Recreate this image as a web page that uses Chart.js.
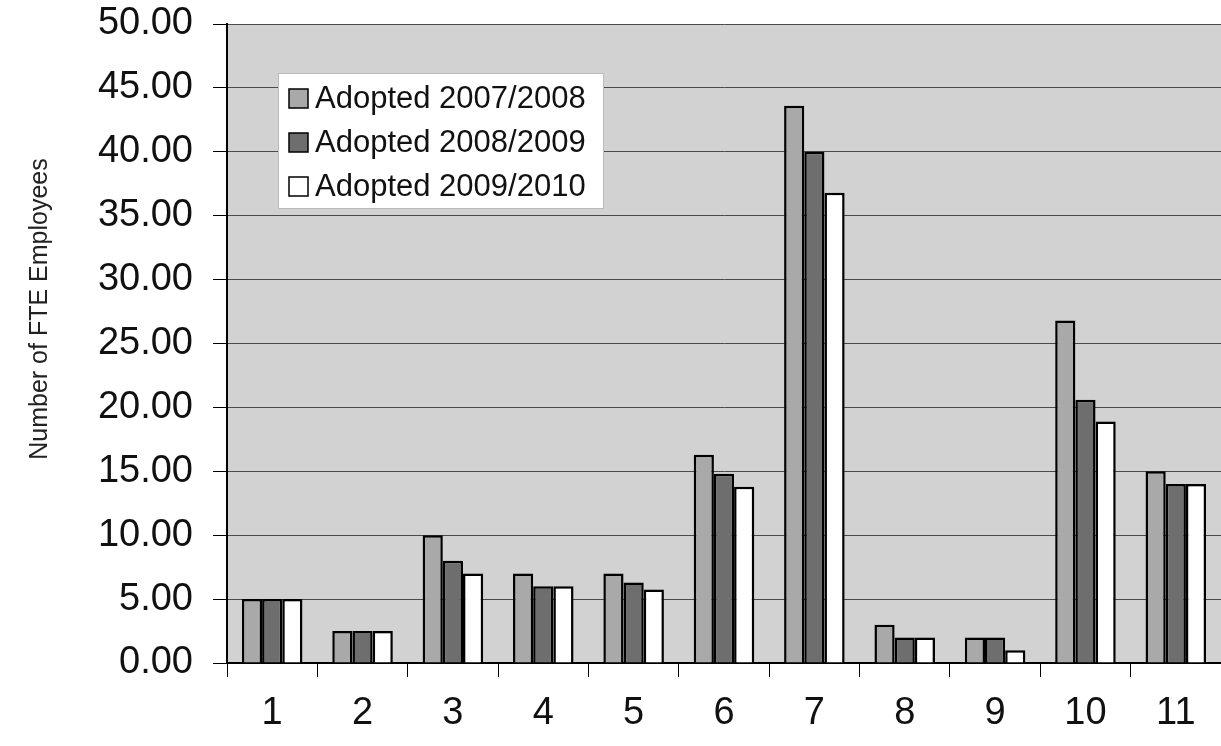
<!DOCTYPE html>
<html lang="en">
<head>
  <meta charset="UTF-8">
  <title>Number of FTE Employees</title>
  <script src="https://cdn.jsdelivr.net/npm/chart.js@4.4.0/dist/chart.umd.min.js"></script>
  <style>
    body { margin: 0; background: #fff; }
    #wrap { width: 1221px; height: 746px; position: relative; }
  </style>
</head>
<body>
  <div id="wrap"><canvas id="fteChart"></canvas></div>
  <script>
    const categories = ["1", "2", "3", "4", "5", "6", "7", "8", "9", "10", "11"];
    const seriesNames = ["Adopted 2007/2008", "Adopted 2008/2009", "Adopted 2009/2010"];
    const adopted0708 = [5, 2.5, 10, 7, 7, 16.3, 43.6, 3, 2, 26.8, 15];
    const adopted0809 = [5, 2.5, 8, 6, 6.3, 14.8, 40, 2, 2, 20.6, 14];
    const adopted0910 = [5, 2.5, 7, 6, 5.75, 13.8, 36.8, 2, 1, 18.9, 14];
    const yMin = 0, yMax = 50, yStep = 5;
    const yTitle = "Number of FTE Employees";

    const FONT = "'Liberation Sans', Arial, sans-serif";
    const barColors = ["#a9a9a9", "#6e6e6e", "#ffffff"];

    // gray plot area, y title and the legend box inside the plot
    const extras = {
      id: "extras",
      beforeDraw(chart) {
        const { ctx, chartArea: a } = chart;
        ctx.save();
        ctx.fillStyle = "#d2d2d2";
        ctx.fillRect(a.left, a.top, a.right - a.left, a.bottom - a.top);
        ctx.restore();
      },
      afterDraw(chart) {
        const { ctx, chartArea: a } = chart;
        ctx.save();
        ctx.translate(40, 309);
        ctx.rotate(-Math.PI / 2);
        ctx.font = "25px " + FONT;
        ctx.fillStyle = "#222";
        ctx.textAlign = "center";
        ctx.textBaseline = "middle";
        ctx.fillText(yTitle, 0, 0);
        ctx.restore();

        const bx = a.left + 51, by = a.top + 49;
        ctx.save();
        ctx.fillStyle = "#fff";
        ctx.fillRect(bx, by, 325, 135);
        ctx.strokeStyle = "#bbb";
        ctx.lineWidth = 1;
        ctx.strokeRect(bx + 0.5, by + 0.5, 325, 135);
        ctx.font = "31px " + FONT;
        ctx.textBaseline = "middle";
        chart.data.datasets.forEach((ds, i) => {
          const cy = by + 25 + i * 44;
          ctx.fillStyle = ds.backgroundColor;
          ctx.fillRect(bx + 11, cy - 9, 19, 19);
          ctx.strokeStyle = "#000";
          ctx.lineWidth = 1.5;
          ctx.strokeRect(bx + 11, cy - 9, 19, 19);
          ctx.fillStyle = "#111";
          ctx.fillText(ds.label, bx + 37, cy + 1);
        });
        ctx.restore();
      }
    };

    new Chart(document.getElementById("fteChart"), {
      type: "bar",
      data: {
        labels: categories,
        datasets: [adopted0708, adopted0809, adopted0910].map((d, i) => ({
          label: seriesNames[i],
          data: d,
          backgroundColor: barColors[i],
          borderColor: "#000",
          borderWidth: 2.5,
          barPercentage: 1,
          categoryPercentage: 0.67
        }))
      },
      options: {
        responsive: true,
        maintainAspectRatio: false,
        animation: false,
        layout: { padding: { top: 24, right: 0, bottom: 0, left: 0 } },
        plugins: { legend: { display: false }, tooltip: { enabled: false } },
        scales: {
          x: {
            grid: { drawOnChartArea: false, tickLength: 14, tickColor: "#000", offset: true },
            border: { color: "#000", width: 2 },
            ticks: { font: { size: 38, family: FONT }, color: "#111", padding: 14 },
            afterFit(s) { s.height = 83; }
          },
          y: {
            min: yMin,
            max: yMax,
            grid: { color: "#4a4a4a", lineWidth: 1, tickLength: 14, tickColor: "#000" },
            border: { color: "#000", width: 2 },
            ticks: {
              stepSize: yStep,
              font: { size: 38, family: FONT },
              color: "#111",
              padding: 20,
              callback: v => v.toFixed(2)
            },
            afterFit(s) { s.width = 227; s.paddingTop = 0; s.paddingBottom = 0; }
          }
        }
      },
      plugins: [extras]
    });
  </script>
</body>
</html>
